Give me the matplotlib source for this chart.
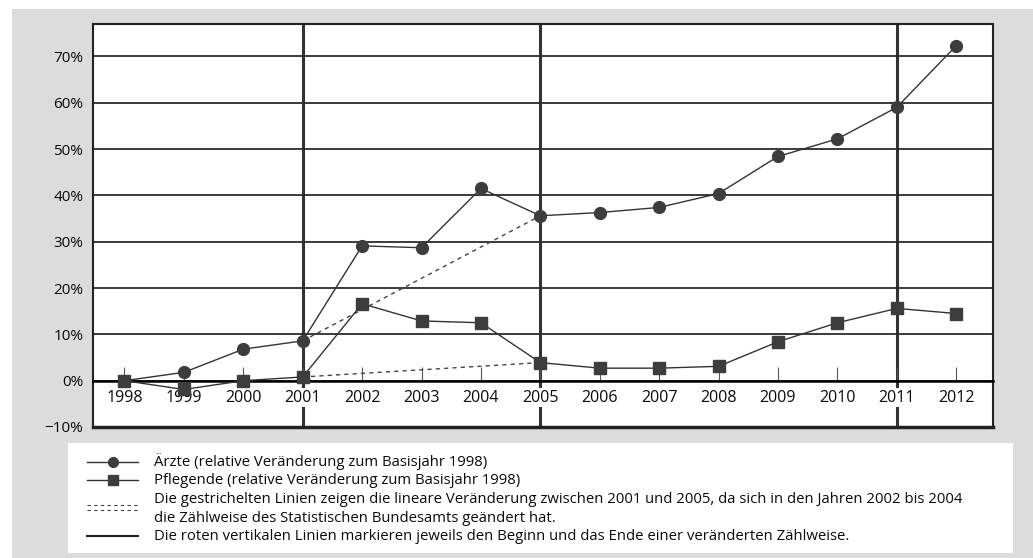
import matplotlib
matplotlib.use('Agg')
import matplotlib.pyplot as plt
from matplotlib.patches import Rectangle
from matplotlib.ticker import FuncFormatter

plt.rcParams['font.family'] = ['Open Sans', 'DejaVu Sans']

# data (relative change vs. 1998, in %)
years = [1998, 1999, 2000, 2001, 2002, 2003, 2004, 2005,
         2006, 2007, 2008, 2009, 2010, 2011, 2012]
aerzte = [0.0, 1.8, 6.8, 8.6, 29.1, 28.7, 41.5, 35.6,
          36.3, 37.4, 40.4, 48.4, 52.2, 59.0, 72.3]
pflegende = [0.0, -1.9, 0.0, 0.8, 16.6, 12.9, 12.5, 3.9,
             2.7, 2.7, 3.1, 8.4, 12.5, 15.6, 14.5]
umbruch = [2001, 2005, 2011]
lin_von, lin_bis = 2001, 2005
yticks = [-10, 0, 10, 20, 30, 40, 50, 60, 70]

legend_texts = [
    'Ärzte (relative Veränderung zum Basisjahr 1998)',
    'Pflegende (relative Veränderung zum Basisjahr 1998)',
    'Die gestrichelten Linien zeigen die lineare Veränderung zwischen 2001 und 2005, da sich in den Jahren 2002 bis 2004\n'
    'die Zählweise des Statistischen Bundesamts geändert hat.',
    'Die roten vertikalen Linien markieren jeweils den Beginn und das Ende einer veränderten Zählweise.',
]

W, H = 1033, 558
fig = plt.figure(figsize=(W / 100, H / 100), dpi=100)
fig.patch.set_facecolor('white')

# background / legend layer in pixel coords
bg = fig.add_axes([0, 0, 1, 1], zorder=0)
bg.set_xlim(0, W)
bg.set_ylim(H, 0)
bg.axis('off')
bg.add_patch(Rectangle((12, 9), W - 12, H - 9, facecolor='#dcdcdc', edgecolor='none'))
bg.add_patch(Rectangle((68, 443), 1013 - 68, 553 - 443, facecolor='white', edgecolor='none'))

# main axes
left, right, top, bottom = 93, 993, 24, 427
ax = fig.add_axes([left / W, (H - bottom) / H, (right - left) / W, (bottom - top) / H], zorder=1)
ax.set_facecolor('white')

linec = '#333333'
markc = '#3d3d3d'
txtc = '#0a0a0a'

for u in umbruch:
    ax.axvline(u, color='#333333', lw=2.2, zorder=1.5)

i0, i1 = years.index(lin_von), years.index(lin_bis)
ax.plot([lin_von, lin_bis], [aerzte[i0], aerzte[i1]], ls=(0, (3, 3)), color='#444444', lw=1, zorder=2.8)
ax.plot([lin_von, lin_bis], [pflegende[i0], pflegende[i1]], ls=(0, (3, 3)), color='#444444', lw=1, zorder=2.8)

ax.plot(years, aerzte, color=linec, lw=1, marker='o', ms=8.5, mfc=markc, mec=markc, zorder=3)
ax.plot(years, pflegende, color=linec, lw=1, marker='s', ms=8, mfc=markc, mec=markc, zorder=3)

ax.set_xlim(1997.47, 2012.62)
ax.set_ylim(-10, 77)

ax.set_yticks(yticks)
ax.yaxis.set_major_formatter(FuncFormatter(lambda v, p: f'{v:.0f}%'.replace('-', '\u2212')))
ax.yaxis.grid(True, color='#2b2b2b', lw=1.3)
ax.tick_params(axis='y', length=0, labelsize=11, pad=7, colors=txtc)

ax.set_xticks(years)
ax.set_xticklabels([str(y) for y in years])
ax.spines['bottom'].set_position(('data', 0))
ax.spines['bottom'].set_linewidth(1.8)
ax.tick_params(axis='x', direction='in', length=10, width=0.8, color='#555555',
               labelsize=11.5, pad=6.5, labelcolor=txtc)
for lab in ax.get_xticklabels():
    lab.set_bbox(dict(facecolor='white', edgecolor='none', pad=1))
for s in ['left', 'right', 'top']:
    ax.spines[s].set_linewidth(1.5)
    ax.spines[s].set_color('#222222')
ax.axhline(-10, color='#222222', lw=2.5, clip_on=False)

# legend drawn by hand
x0, x1, xt = 87, 138, 154
bg.plot([x0, x1], [462, 462], color=linec, lw=1)
bg.plot([(x0 + x1) / 2], [462], marker='o', ms=7, color=markc)
bg.plot([x0, x1], [480, 480], color=linec, lw=1)
bg.plot([(x0 + x1) / 2], [480], marker='s', ms=6.5, color=markc)
bg.plot([x0, x1], [505, 505], color='#444444', lw=0.8, ls=(0, (3, 3)))
bg.plot([x0, x1], [510, 510], color='#444444', lw=0.8, ls=(0, (3, 3)))
bg.plot([x0, x1], [536, 536], color='#222222', lw=1.5)

fs = 10.7
bg.text(xt, 462, legend_texts[0], va='center', fontsize=fs, color=txtc)
bg.text(xt, 480, legend_texts[1], va='center', fontsize=fs, color=txtc)
bg.text(xt, 509, legend_texts[2], va='center', fontsize=fs, color=txtc, linespacing=1.3)
bg.text(xt, 536, legend_texts[3], va='center', fontsize=fs, color=txtc)

fig.savefig('out.png', dpi=100, facecolor=fig.get_facecolor())
